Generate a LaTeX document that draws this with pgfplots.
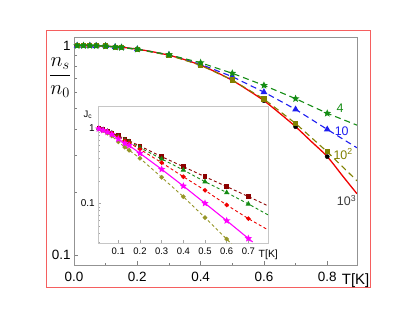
\documentclass[border=0pt]{standalone}
\usepackage[no-math]{fontspec}
\setmainfont{Liberation Sans}
\usepackage{pgfplots}
\pgfplotsset{compat=1.18}
\definecolor{mgreen}{RGB}{20,140,20}
\definecolor{mblue}{RGB}{30,30,240}
\definecolor{molive}{RGB}{128,128,0}
\definecolor{iolive}{RGB}{150,150,40}
\definecolor{mred}{RGB}{240,0,0}
\definecolor{mdarkred}{RGB}{140,0,0}
\definecolor{mmag}{RGB}{255,0,255}
\definecolor{framered}{RGB}{245,95,95}
\definecolor{labgray}{RGB}{60,60,60}
\pgfdeclareplotmark{fstar}{%
 \pgfpathmoveto{\pgfpointpolar{90}{\pgfplotmarksize}}%
 \pgfpathlineto{\pgfpointpolar{126}{0.45\pgfplotmarksize}}%
 \pgfpathlineto{\pgfpointpolar{162}{\pgfplotmarksize}}%
 \pgfpathlineto{\pgfpointpolar{198}{0.45\pgfplotmarksize}}%
 \pgfpathlineto{\pgfpointpolar{234}{\pgfplotmarksize}}%
 \pgfpathlineto{\pgfpointpolar{270}{0.45\pgfplotmarksize}}%
 \pgfpathlineto{\pgfpointpolar{306}{\pgfplotmarksize}}%
 \pgfpathlineto{\pgfpointpolar{342}{0.45\pgfplotmarksize}}%
 \pgfpathlineto{\pgfpointpolar{18}{\pgfplotmarksize}}%
 \pgfpathlineto{\pgfpointpolar{54}{0.45\pgfplotmarksize}}%
 \pgfpathclose
 \pgfusepathqfillstroke}
\begin{document}
\begin{tikzpicture}
\path[use as bounding box] (0,0) rectangle (415bp,318bp);
\draw[color=framered, line width=0.9bp] (46.5bp,30.3bp) rectangle (370.5bp,288bp);
\begin{axis}[
  scale only axis, width=283bp, height=228bp,
  at={(74bp,53bp)}, anchor=south west,
  xmin=0, xmax=0.894, ymode=log, ymin=0.0895, ymax=1.10,
  xtick={0,0.2,0.4,0.6,0.8}, minor xtick={0.1,0.3,0.5,0.7},
  ytick={0.1,1}, yticklabels={0.1,1},
  minor ytick={0.2,0.3,0.4,0.5,0.6,0.7,0.8,0.9},
  tick align=inside, xtick pos=bottom, ytick pos=left,
  major tick length=4bp, minor tick length=2.5bp,
  every tick/.style={gray},
  axis line style={gray!85, line width=0.8bp},
  /pgf/number format/assume math mode=true,
  xticklabel style={font=\fontsize{13.5}{14}\selectfont, yshift=-3.5bp, /pgf/number format/fixed, /pgf/number format/fixed zerofill, /pgf/number format/precision=1},
  yticklabel style={font=\fontsize{13.5}{14}\selectfont},
  clip mode=individual,
]
\addplot[mred, line width=1.3bp, smooth] coordinates {
 (0,1.0) (0.05,0.999) (0.1,0.995) (0.15,0.983) (0.2,0.962) (0.25,0.934) (0.3,0.9)
 (0.35,0.857) (0.4,0.806) (0.45,0.746) (0.5,0.683) (0.55,0.613) (0.6,0.546)
 (0.65,0.475) (0.7,0.41) (0.75,0.348) (0.8,0.295) (0.85,0.237) (0.894,0.196)};
\addplot[only marks, mark=*, mark size=2.1bp, black] coordinates {
 (0.01,1.0) (0.03,1.0) (0.05,1.0) (0.07,0.998) (0.1,0.995) (0.13,0.985) (0.15,0.98)
 (0.2,0.962) (0.3,0.9) (0.4,0.806) (0.5,0.683) (0.6,0.546) (0.7,0.41) (0.8,0.295)};
\addplot[mblue, line width=1.1bp, dash pattern=on 6bp off 4bp, mark=triangle*, mark size=2.8bp,
  mark options={solid}, mark indices={1,...,14}] coordinates {
 (0.01,1.0) (0.03,1.0) (0.05,1.0) (0.07,0.998) (0.1,0.996) (0.13,0.985) (0.15,0.98)
 (0.2,0.962) (0.3,0.903) (0.4,0.815) (0.5,0.711) (0.6,0.60) (0.7,0.496) (0.8,0.398)
 (0.894,0.325)};
\addplot[molive, line width=1.1bp, dash pattern=on 6bp off 4bp, mark=square*, mark size=2.1bp,
  mark options={solid}, mark indices={1,...,14}] coordinates {
 (0.01,1.0) (0.03,1.0) (0.05,1.0) (0.07,0.998) (0.1,0.995) (0.13,0.983) (0.15,0.978)
 (0.2,0.96) (0.3,0.9) (0.4,0.806) (0.5,0.685) (0.6,0.556) (0.7,0.425) (0.8,0.311)
 (0.894,0.226)};
\addplot[mgreen, line width=1.1bp, dash pattern=on 6bp off 4bp, mark=fstar, mark size=2.6bp,
  mark options={solid}, mark indices={1,...,14}] coordinates {
 (0.01,1.0) (0.03,1.0) (0.05,1.0) (0.07,0.998) (0.1,0.996) (0.13,0.985) (0.15,0.98)
 (0.2,0.962) (0.3,0.905) (0.4,0.829) (0.5,0.738) (0.6,0.646) (0.7,0.558) (0.8,0.475)
 (0.894,0.417)};
\node[mgreen, font=\fontsize{12.5}{13}\selectfont] at (rel axis cs:0.940,0.687) {4};
\node[mblue, font=\fontsize{12.5}{13}\selectfont] at (rel axis cs:0.946,0.585) {10};
\node[molive, font=\fontsize{12.5}{13}\selectfont] at (rel axis cs:0.951,0.487) {10\textsuperscript{2}};
\node[labgray, font=\fontsize{12.5}{13}\selectfont] at (rel axis cs:0.963,0.282) {10\textsuperscript{3}};
\node[font=\fontsize{22}{24}\selectfont, inner sep=0pt] at (rel axis cs:-0.049,0.822) {$\displaystyle\frac{n_s}{n_0}$};
\node[font=\fontsize{15}{16}\selectfont, anchor=north, inner sep=0pt] at (rel axis cs:0.995,-0.035) {T[K]};
\end{axis}
\begin{axis}[
  scale only axis, width=170bp, height=136.6bp,
  at={(98.3bp,74.7bp)}, anchor=south west,
  xmin=0.0077, xmax=0.792, ymode=log, ymin=0.0293, ymax=1.94,
  xtick={0.1,0.2,0.3,0.4,0.5,0.6,0.7},
  ytick={0.1,1}, yticklabels={0.1,1},
  minor ytick={0.03,0.04,0.05,0.06,0.07,0.08,0.09,0.2,0.3,0.4,0.5,0.6,0.7,0.8,0.9},
  tick align=inside, xtick pos=bottom, ytick pos=left,
  major tick length=3bp, minor tick length=2bp,
  every tick/.style={gray!70},
  axis line style={gray!45, line width=0.7bp},
  axis background/.style={fill=white},
  /pgf/number format/assume math mode=true,
  xticklabel style={font=\fontsize{9.5}{10}\selectfont, yshift=-1bp, /pgf/number format/fixed, /pgf/number format/precision=1},
  yticklabel style={font=\fontsize{10}{11}\selectfont},
  clip mode=individual,
]
\addplot[mdarkred, line width=0.9bp, dash pattern=on 3bp off 2.5bp, mark=square*, mark size=1.8bp,
  mark options={solid}, mark indices={1,...,13}] coordinates {
 (0.01,0.99) (0.03,0.96) (0.05,0.92) (0.07,0.87) (0.1,0.796) (0.13,0.72) (0.15,0.68)
 (0.2,0.58) (0.3,0.418) (0.4,0.308) (0.5,0.226) (0.6,0.167) (0.7,0.123) (0.792,0.092)};
\addplot[mgreen, line width=0.9bp, dash pattern=on 3bp off 2.5bp, mark=triangle*, mark size=2.2bp,
  mark options={solid}, mark indices={1,...,13}] coordinates {
 (0.01,0.99) (0.03,0.955) (0.05,0.915) (0.07,0.865) (0.1,0.78) (0.13,0.70) (0.15,0.66)
 (0.2,0.552) (0.3,0.39) (0.4,0.278) (0.5,0.194) (0.6,0.139) (0.7,0.098) (0.792,0.0698)};
\addplot[mred, line width=0.9bp, dash pattern=on 3bp off 2.5bp, mark=*, mark size=1.8bp,
  mark options={solid}, mark indices={1,...,13}] coordinates {
 (0.01,0.99) (0.03,0.95) (0.05,0.91) (0.07,0.86) (0.1,0.76) (0.13,0.68) (0.15,0.64)
 (0.2,0.525) (0.3,0.348) (0.4,0.226) (0.5,0.149) (0.6,0.095) (0.7,0.0625) (0.792,0.044)};
\addplot[iolive, line width=0.9bp, dash pattern=on 3bp off 2.5bp, mark=*, mark size=1.8bp,
  mark options={solid}, mark indices={1,...,12}] coordinates {
 (0.01,0.98) (0.03,0.93) (0.05,0.86) (0.07,0.79) (0.1,0.66) (0.13,0.56) (0.15,0.51)
 (0.2,0.398) (0.3,0.222) (0.4,0.1226) (0.5,0.0644) (0.6,0.0334) (0.64,0.0255)};
\addplot[mmag, line width=1.1bp, mark=fstar, mark size=2.4bp, mark indices={1,...,13}] coordinates {
 (0.01,0.985) (0.03,0.94) (0.05,0.89) (0.07,0.83) (0.1,0.72) (0.13,0.63) (0.15,0.59)
 (0.2,0.464) (0.3,0.284) (0.4,0.17) (0.5,0.1) (0.6,0.0587) (0.7,0.034) (0.72,0.0305)};
\node[font=\fontsize{9.5}{10}\selectfont, inner sep=0pt] at (rel axis cs:-0.061,0.94) {J\textsubscript{c}};
\node[font=\fontsize{10.5}{11}\selectfont, anchor=north, inner sep=0pt] at (rel axis cs:1,-0.045) {T[K]};
\end{axis}
\end{tikzpicture}
\end{document}
